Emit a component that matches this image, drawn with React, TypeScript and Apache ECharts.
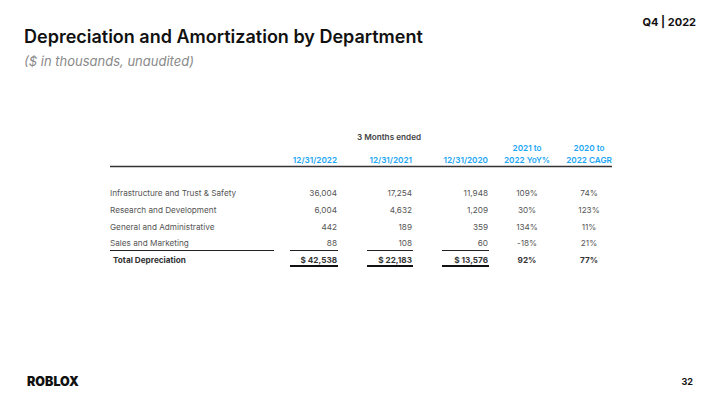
import React, { useEffect, useRef } from "react";
import * as echarts from "echarts";

const categories = [
  "Infrastructure and Trust & Safety",
  "Research and Development",
  "General and Administrative",
  "Sales and Marketing",
];
const values2022 = ["36,004", "6,004", "442", "88"];
const values2021 = ["17,254", "4,632", "189", "108"];
const values2020 = ["11,948", "1,209", "359", "60"];
const yoy = ["109%", "30%", "134%", "-18%"];
const cagr = ["74%", "123%", "11%", "21%"];
const totalLabel = "Total Depreciation";
const totals = ["$ 42,538", "$ 22,183", "$ 13,576"];
const totalPct = ["92%", "77%"];
const dateHeaders = ["12/31/2022", "12/31/2021", "12/31/2020"];
const pctHeaders = ["2021 to\n2022 YoY%", "2020 to\n2022 CAGR"];

const FONT = "Inter, 'Noto Sans', sans-serif";
const BLUE = "#1ba6f5";
const GRAY = "#555555";

export default function App() {
  const ref = useRef<HTMLDivElement>(null);
  useEffect(() => {
    document.body.style.margin = "0";
    const chart = echarts.init(ref.current!, undefined, { renderer: "svg" });
    const numRight = [337, 412, 488];
    const pctCenter = [527, 589];
    const rowY = [193, 210, 227, 243];
    const totalY = 260;
    const els: any[] = [];
    const txt = (x: number, y: number, text: string, o: any = {}) =>
      els.push({
        type: "text",
        x,
        y,
        style: {
          text,
          fontFamily: FONT,
          fontSize: 8.2,
          fill: GRAY,
          textAlign: "left",
          textVerticalAlign: "middle",
          ...o,
        },
      });
    const line = (x1: number, y1: number, x2: number, y2: number, w = 1, c = "#222") =>
      els.push({ type: "line", shape: { x1, y1, x2, y2 }, style: { stroke: c, lineWidth: w } });

    // title
    txt(24, 36, "Depreciation and Amortization by Department", { fontSize: 18, fontWeight: 600, fill: "#111" });
    txt(24, 61, "($ in thousands, unaudited)", { fontSize: 13, fontStyle: "italic", fill: "#8a8a8a" });
    txt(696, 22, "Q4 | 2022", { fontSize: 11, fontWeight: 700, fill: "#111", textAlign: "right" });
    // header
    txt(389, 137, "3 Months ended", { fontWeight: 600, fill: "#444", textAlign: "center" });
    dateHeaders.forEach((h, i) => txt(numRight[i], 160, h, { fontWeight: 600, fill: BLUE, textAlign: "right" }));
    pctHeaders.forEach((h, i) =>
      txt(pctCenter[i], 154, h, { fontWeight: 600, fill: BLUE, textAlign: "center", lineHeight: 12 })
    );
    line(110, 166.5, 612, 166.5, 1.5, "#333");
    // rows
    categories.forEach((c, r) => {
      const y = rowY[r];
      txt(110, y, c);
      [values2022, values2021, values2020].forEach((arr, i) => txt(numRight[i], y, arr[r], { textAlign: "right" }));
      [yoy, cagr].forEach((arr, i) => txt(pctCenter[i], y, arr[r], { textAlign: "center" }));
    });
    // underlines
    line(110, 250.5, 274, 250.5, 1, "#222");
    const colLeft = [290, 367, 442];
    colLeft.forEach((l, i) => line(l, 250.5, numRight[i] + 1, 250.5, 1, "#222"));
    // totals
    txt(113, totalY, totalLabel, { fontWeight: 700, fill: "#333" });
    totals.forEach((t, i) => txt(numRight[i], totalY, t, { fontWeight: 700, fill: "#333", textAlign: "right" }));
    totalPct.forEach((t, i) => txt(pctCenter[i], totalY, t, { fontWeight: 700, fill: "#333", textAlign: "center" }));
    colLeft.forEach((l, i) => {
      line(l, 266, numRight[i] + 1, 266, 2, "#111");
    });
    // footer
    txt(27, 381, "ROBLOX", { fontSize: 12.5, fontWeight: 900, fill: "#111" });
    txt(693, 381, "32", { fontSize: 9, fontWeight: 700, fill: "#111", textAlign: "right" });

    chart.setOption({ animation: false, backgroundColor: "#ffffff", graphic: { elements: els } });
    return () => chart.dispose();
  }, []);
  return <div ref={ref} style={{ position: "fixed", left: 0, top: 0, width: 720, height: 405 }} />;
}
